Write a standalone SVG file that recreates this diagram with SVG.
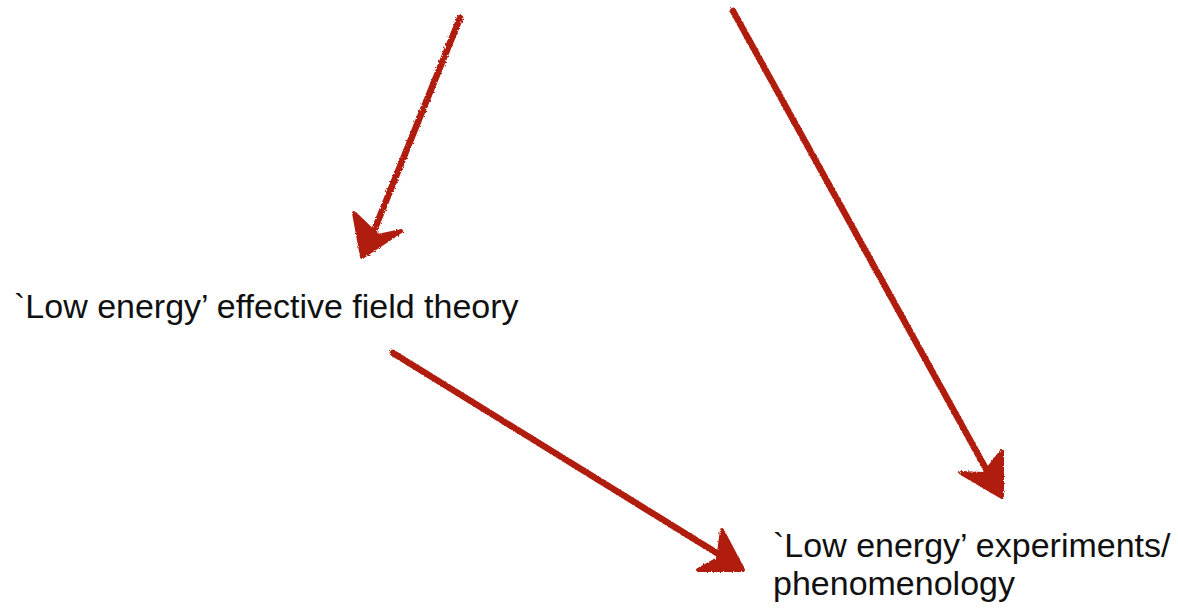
<svg xmlns="http://www.w3.org/2000/svg" width="1178" height="609" viewBox="0 0 1178 609">
<style>
.lbl{font-family:"Liberation Sans",Arial,sans-serif;font-size:34px;fill:#111}
.arr{fill:none;stroke:#b01e0e;stroke-width:6.5;stroke-linecap:round;stroke-linejoin:round;filter:url(#rough)}
.head{fill:#b01e0e;stroke:#b01e0e;stroke-width:4;stroke-linejoin:round;filter:url(#rough)}
</style>
<defs>
<filter id="rough" x="-10%" y="-10%" width="120%" height="120%">
<feTurbulence type="fractalNoise" baseFrequency="0.6" numOctaves="2" seed="3" result="n"/>
<feDisplacementMap in="SourceGraphic" in2="n" scale="3"/>
</filter>
</defs>
<rect width="1178" height="609" fill="#ffffff"/>
<g id="connectors">
<g id="arrow1">
<path class="arr" d="M460,18 L367,248"/>
<path class="head" d="M354,213 L362,257 L401,231 L378,236 Z"/>
</g>
<g id="arrow2">
<path class="arr" d="M733,11 L996,487"/>
<path class="head" d="M1002,451 L1002,497 L961,473 L984,474 Z"/>
</g>
<g id="arrow3">
<path class="arr" d="M393,353 L733,563"/>
<path class="head" d="M722,530 L743,570 L698,570 L718,559 Z"/>
</g>
</g>
<g id="node-eft">
<text class="lbl" x="14" y="318">`Low energy’ effective field theory</text>
</g>
<g id="node-exp">
<text class="lbl" x="773" y="557">`Low energy’ experiments/</text>
<text class="lbl" x="773" y="595">phenomenology</text>
</g>
</svg>
